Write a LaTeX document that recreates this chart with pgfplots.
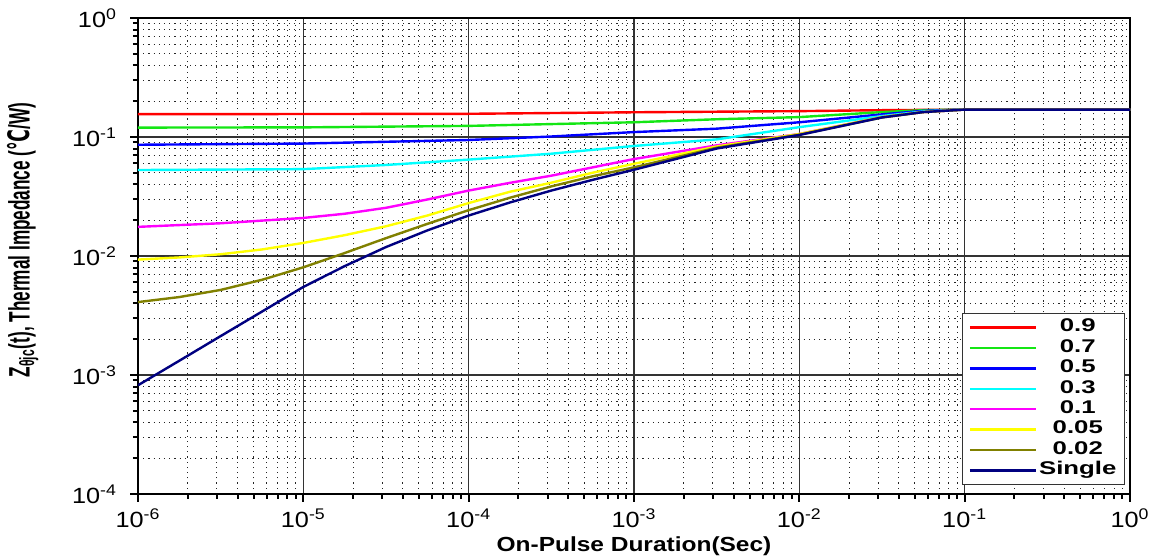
\documentclass[border=0pt]{standalone}
\usepackage{fontspec}
\setmainfont{Liberation Sans}
\newfontfamily\tickfont{Liberation Sans}[FakeStretch=1.15]
\newfontfamily\labfont{Liberation Sans}[FakeStretch=1.2]
\newfontfamily\legfont{Liberation Sans}[FakeStretch=1.4]
\newfontfamily\symfont{DejaVu Sans}
\usepackage{pgfplots}
\pgfplotsset{compat=1.18}

\definecolor{cRed}{RGB}{255,0,0}
\definecolor{cGreen}{RGB}{20,230,20}
\definecolor{cBlue}{RGB}{0,0,255}
\definecolor{cCyan}{RGB}{0,255,255}
\definecolor{cMag}{RGB}{255,0,255}
\definecolor{cYel}{RGB}{255,255,0}
\definecolor{cOlive}{RGB}{128,128,0}
\definecolor{cNavy}{RGB}{0,0,128}

\begin{document}
\begin{tikzpicture}
\begin{axis}[
 xmode=log, ymode=log,
 scale only axis, width=496pt, height=238pt,
 xmin=1e-6, xmax=1, ymin=1e-4, ymax=1,
 xtick={1e-6,1e-5,1e-4,1e-3,1e-2,1e-1,1},
 xticklabels={10\textsuperscript{-6},10\textsuperscript{-5},10\textsuperscript{-4},10\textsuperscript{-3},10\textsuperscript{-2},10\textsuperscript{-1},10\textsuperscript{0}},
 ytick={1e-4,1e-3,1e-2,1e-1,1},
 yticklabels={10\textsuperscript{-4},10\textsuperscript{-3},10\textsuperscript{-2},10\textsuperscript{-1},10\textsuperscript{0}},
 minor xtick={2e-6,3e-6,4e-6,5e-6,6e-6,7e-6,8e-6,9e-6,
  2e-5,3e-5,4e-5,5e-5,6e-5,7e-5,8e-5,9e-5,
  2e-4,3e-4,4e-4,5e-4,6e-4,7e-4,8e-4,9e-4,
  2e-3,3e-3,4e-3,5e-3,6e-3,7e-3,8e-3,9e-3,
  2e-2,3e-2,4e-2,5e-2,6e-2,7e-2,8e-2,9e-2,
  0.2,0.3,0.4,0.5,0.6,0.7,0.8,0.9},
 minor ytick={2e-4,3e-4,4e-4,5e-4,6e-4,7e-4,8e-4,9e-4,
  2e-3,3e-3,4e-3,5e-3,6e-3,7e-3,8e-3,9e-3,
  2e-2,3e-2,4e-2,5e-2,6e-2,7e-2,8e-2,9e-2,
  0.2,0.3,0.4,0.5,0.6,0.7,0.8,0.9},
 grid=both,
 major grid style={black!80, line width=0.6pt},
 minor grid style={black!85, dash pattern=on 0.6pt off 2pt, line width=0.45pt},
 axis line style={line width=1.4pt},
 tick pos=left, tick align=outside,
 major tick length=4pt, minor tick length=2.5pt,
 every tick/.style={black, line width=1pt},
 ticklabel style={font=\tickfont\fontsize{11}{12}\selectfont},
 xticklabel style={yshift=0pt},
 yticklabel style={xshift=-3pt},
 xlabel={\labfont\bfseries\fontsize{10.2}{12}\selectfont On-Pulse Duration(Sec)},
 xlabel style={yshift=2.5pt},
 ylabel={\scalebox{1}[1.72]{\bfseries\fontsize{8.6}{10}\selectfont Z\textsubscript{θjc}(t), Thermal Impedance ({\symfont ℃}/W)}},
 ylabel style={yshift=10pt, xshift=8pt},
 legend image code/.code={\draw[#1, line width=1.2pt] (0pt,0pt) -- (33pt,0pt);},
 legend cell align=center,
 legend style={at={(0.995,0.019)}, anchor=south east, draw=black!80, line width=0.6pt,
  font=\legfont\bfseries\fontsize{9.2}{10}\selectfont, row sep=0.2pt,
  nodes={inner sep=1pt, text height=6.2pt, text depth=1.8pt}},
 every axis plot/.append style={line width=1.2pt},
]
\addplot[cRed] coordinates {
 (1e-6,0.1556) (1e-5,0.1560) (1e-4,0.1567) (1e-3,0.1614) (1e-2,0.165)
 (3.162e-2,0.168) (1e-1,0.170) (1,0.170)};
\addplot[cGreen] coordinates {
 (1e-6,0.120) (1e-5,0.1205) (1e-4,0.124) (1e-3,0.133) (3.162e-3,0.141)
 (1e-2,0.147) (3.162e-2,0.162) (5.623e-2,0.168) (1e-1,0.170) (1,0.170)};
\addplot[cBlue] coordinates {
 (1e-6,0.0861) (1e-5,0.0881) (1e-4,0.0944) (3.162e-4,0.101) (1e-3,0.110)
 (3.162e-3,0.1175) (1e-2,0.133) (3.162e-2,0.155) (5.623e-2,0.166) (1e-1,0.170) (1,0.170)};
\addplot[cCyan] coordinates {
 (1e-6,0.0528) (1e-5,0.0537) (3.162e-5,0.0582) (1e-4,0.0646) (3.162e-4,0.0724)
 (1e-3,0.0841) (3.162e-3,0.0955) (1e-2,0.121) (3.162e-2,0.150) (5.623e-2,0.164)
 (1e-1,0.170) (1,0.170)};
\addplot[cMag] coordinates {
 (1e-6,0.01758) (3.162e-6,0.01884) (1e-5,0.02089) (1.778e-5,0.02265) (3.162e-5,0.02541)
 (5.623e-5,0.02985) (1e-4,0.03548) (1.778e-4,0.04121) (3.162e-4,0.04732) (5.623e-4,0.05559)
 (1e-3,0.06531) (3.162e-3,0.0851) (1e-2,0.106) (3.162e-2,0.147) (5.623e-2,0.162)
 (1e-1,0.170) (1,0.170)};
\addplot[cYel] coordinates {
 (1e-6,0.00933) (1.778e-6,0.009727) (3.162e-6,0.01035) (5.623e-6,0.01135) (1e-5,0.01288)
 (1.778e-5,0.01496) (3.162e-5,0.01778) (5.623e-5,0.02188) (1e-4,0.02786) (1.778e-4,0.03467)
 (3.162e-4,0.0413) (5.623e-4,0.05012) (1e-3,0.05957) (3.162e-3,0.0832) (1e-2,0.106)
 (3.162e-2,0.147) (5.623e-2,0.162) (1e-1,0.170) (1,0.170)};
\addplot[cOlive] coordinates {
 (1e-6,0.0041) (1.778e-6,0.004519) (3.162e-6,0.005188) (5.623e-6,0.006310) (1e-5,0.008035)
 (1.778e-5,0.01059) (3.162e-5,0.01413) (5.623e-5,0.01862) (1e-4,0.02427) (1.778e-4,0.0309)
 (3.162e-4,0.03846) (5.623e-4,0.04677) (1e-3,0.05559) (3.162e-3,0.0813) (1e-2,0.1047)
 (3.162e-2,0.146) (5.623e-2,0.162) (1e-1,0.170) (1,0.170)};
\addplot[cNavy] coordinates {
 (1e-6,0.00082) (1.778e-6,0.001318) (3.162e-6,0.002123) (5.623e-6,0.003412) (1e-5,0.005495)
 (1.778e-5,0.008222) (3.162e-5,0.01189) (5.623e-5,0.01641) (1e-4,0.02188) (1.778e-4,0.02818)
 (3.162e-4,0.03548) (5.623e-4,0.04365) (1e-3,0.05309) (3.162e-3,0.080) (1e-2,0.104)
 (3.162e-2,0.146) (5.623e-2,0.162) (1e-1,0.170) (1,0.170)};
\legend{0.9,0.7,0.5,0.3,0.1,0.05,0.02,Single}
\end{axis}
\pgfresetboundingbox
\path[use as bounding box] (-69pt,-31pt) rectangle (508pt,247pt);
\end{tikzpicture}
\end{document}
